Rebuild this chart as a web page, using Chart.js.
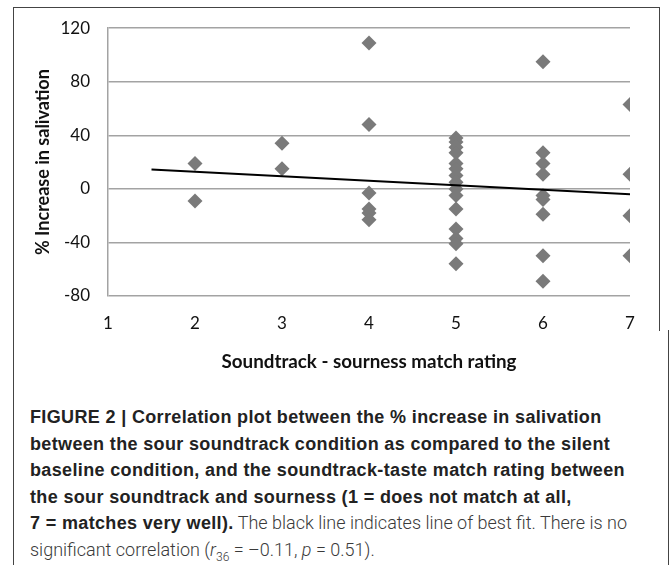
<!DOCTYPE html>
<html>
<head>
<meta charset="utf-8">
<script src="https://cdn.jsdelivr.net/npm/chart.js@4.4.1/dist/chart.umd.min.js"></script>
<style>
  html, body { margin: 0; padding: 0; background: #fff; }
  body { width: 672px; height: 565px; position: relative; overflow: hidden; }
  #chart { position: absolute; left: 0; top: 0; }
  #chart-frame {
    position: absolute; left: 13px; top: 7px; width: 645px; height: 323px;
    border-top: 1px solid #444; border-left: 1px solid #444; border-right: 1px solid #444;
  }
  #caption-frame {
    position: absolute; left: 13px; top: 330px; width: 654px; height: 240px;
    border-left: 1px solid #444; border-right: 1px solid #444;
  }
  #caption {
    position: absolute; left: 30px; top: 404px; width: 636px;
    font-family: Roboto, "Liberation Sans", sans-serif; font-size: 18px;
    line-height: 25.6px; color: #3a3a3a; font-weight: 300; white-space: nowrap;
  }
  #caption b {
    font-family: "Liberation Sans", Arial, sans-serif; font-weight: 700;
    color: #222; letter-spacing: 0.35px;
  }
  #caption sub { font-size: 12px; line-height: 0; }
</style>
</head>
<body>
<div id="chart-frame"></div>
<div id="caption-frame"></div>
<canvas id="chart" width="672" height="400"></canvas>
<div id="caption">
<b>FIGURE 2 | Correlation plot between the % increase in salivation</b><br>
<b>between the sour soundtrack condition as compared to the silent</b><br>
<b>baseline condition, and the soundtrack-taste match rating between</b><br>
<b>the sour soundtrack and sourness (1 = does not match at all,</b><br>
<b>7 = matches very well).</b> The black line indicates line of best fit. There is no<br>
significant correlation (<i>r</i><sub>36</sub> = &ndash;0.11, <i>p</i> = 0.51).
</div>
<script>
// Salivation increase (%) per soundtrack-sourness match rating
const rating2 = [19, -9];
const rating3 = [34, 15];
const rating4 = [109, 48, -3, -15, -18, -23];
const rating5 = [38, 35, 31, 27, 19, 15, 10, 5, 0, -5, -15, -30, -37, -41, -56];
const rating6 = [95, 27, 19, 11, -5, -8, -19, -50, -69];
const rating7 = [63, 11, -20, -50];

// Line of best fit
const trendX = [1.5, 7];
const trendY = [14.5, -4];

// Axis ticks
const xTicks = [1, 2, 3, 4, 5, 6, 7];
const yTicks = [-80, -40, 0, 40, 80, 120];

const groups = [[2, rating2], [3, rating3], [4, rating4], [5, rating5], [6, rating6], [7, rating7]];
const points = [];
groups.forEach(([rating, values]) => {
  values.forEach(v => points.push({ x: rating, y: v }));
});

const trendPoints = trendX.map((x, i) => ({ x: x, y: trendY[i] }));

const tickFont = { family: 'Lato, "Open Sans", sans-serif', size: 17 };
const gridColor = '#a3a3a3';

new Chart(document.getElementById('chart'), {
  type: 'scatter',
  data: {
    datasets: [
      {
        type: 'line',
        data: trendPoints,
        borderColor: '#000',
        borderWidth: 2,
        pointRadius: 0,
        fill: false,
        order: 0
      },
      {
        data: points,
        pointStyle: 'rectRot',
        pointRadius: 7.5,
        backgroundColor: '#7a7a7a',
        borderColor: '#7a7a7a',
        borderWidth: 0,
        order: 1
      }
    ]
  },
  options: {
    responsive: false,
    animation: false,
    layout: { padding: { top: 28, right: 42, left: 0, bottom: 0 } },
    plugins: { legend: { display: false }, tooltip: { enabled: false } },
    scales: {
      x: {
        type: 'linear',
        min: xTicks[0],
        max: xTicks[xTicks.length - 1],
        afterBuildTicks: scale => { scale.ticks = xTicks.map(v => ({ value: v })); },
        ticks: { font: tickFont, color: '#111', padding: 17 },
        grid: { display: false, drawTicks: false },
        border: { display: false },
        title: {
          display: true,
          text: 'Soundtrack - sourness match rating',
          font: { family: 'Lato, "Open Sans", sans-serif', size: 18.8, weight: 'bold' },
          color: '#111',
          padding: { top: 0, bottom: 26.7 }
        },
        afterFit: scale => { scale.height = 104; }
      },
      y: {
        min: yTicks[0],
        max: yTicks[yTicks.length - 1],
        afterBuildTicks: scale => { scale.ticks = yTicks.map(v => ({ value: v })); },
        ticks: { font: tickFont, color: '#111', padding: 18 },
        grid: { color: gridColor, lineWidth: 1.5, drawTicks: false },
        border: { display: true, color: gridColor, width: 1.5 },
        title: {
          display: true,
          text: '% Increase in salivation',
          font: { family: 'Lato, "Open Sans", sans-serif', size: 18, weight: 'bold' },
          color: '#111',
          padding: { top: 32.2, bottom: 0 }
        },
        afterFit: scale => { scale.width = 108; }
      }
    }
  }
});
</script>
</body>
</html>
